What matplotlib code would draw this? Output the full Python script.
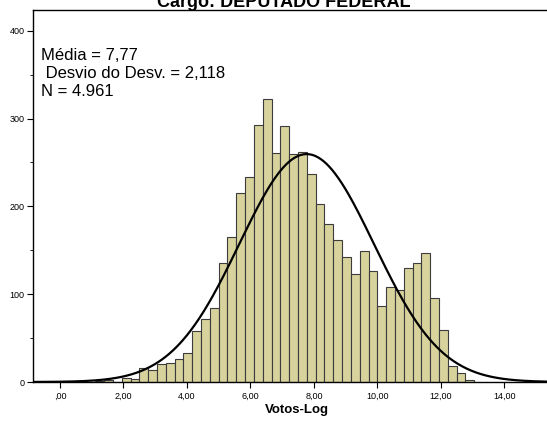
import numpy as np
import matplotlib
matplotlib.use("Agg")
import matplotlib.pyplot as plt
from matplotlib.ticker import MultipleLocator, FixedLocator, FixedFormatter

plt.rcParams['font.family'] = ['Liberation Sans', 'DejaVu Sans']

# Histogram of log-votes (bins of equal width starting at bin_start)
bin_start = 1.111
bin_width = 0.2777
counts = [1, 2, 0, 5, 3,
          16, 14, 20, 22, 26, 33, 58, 72,
          84, 136, 165, 215, 233, 293, 322, 261, 291, 260, 262,
          237, 203, 180, 162, 142, 123, 149, 126, 87, 108, 105,
          130, 136, 147, 96, 59, 18, 10, 2]

mean = 7.77
std = 2.118
n_total = 4961

title = "Cargo: DEPUTADO FEDERAL"
xlabel = "Votos-Log"
stats_lines = ["Média = 7,77", " Desvio do Desv. = 2,118", "N = 4.961"]

x_ticks = [0, 2, 4, 6, 8, 10, 12, 14]
x_ticklabels = [",00", "2,00", "4,00", "6,00", "8,00", "10,00", "12,00", "14,00"]
y_ticks = [0, 100, 200, 300, 400]

W, H = 547, 423
fig = plt.figure(figsize=(W / 100, H / 100), dpi=100)
ax = fig.add_axes([33 / W, 41 / H, (552 - 33) / W, 371.5 / H])

lefts = bin_start + bin_width * np.arange(len(counts))
ax.bar(lefts, counts, width=bin_width, align='edge',
       color='#D8D29D', edgecolor='#3c3c3c', linewidth=0.8, zorder=2)

# Normal curve scaled to the histogram
xs = np.linspace(-1, 16, 600)
pdf = np.exp(-0.5 * ((xs - mean) / std) ** 2) / (std * np.sqrt(2 * np.pi))
ax.plot(xs, n_total * bin_width * pdf, color='black', lw=1.6, zorder=3)

ax.set_xlim(-0.85, 15.5)
ax.set_ylim(0, 423)

ax.xaxis.set_major_locator(FixedLocator(x_ticks))
ax.xaxis.set_major_formatter(FixedFormatter(x_ticklabels))
ax.yaxis.set_major_locator(FixedLocator(y_ticks))
ax.yaxis.set_minor_locator(MultipleLocator(50))
ax.tick_params(axis='both', which='major', direction='out', length=4,
               width=0.8, labelsize=6.5, pad=2, colors='black')
ax.tick_params(axis='y', which='minor', direction='out', length=2.5, width=0.6)
ax.tick_params(axis='x', pad=3)

for side in ['left', 'bottom', 'top']:
    ax.spines[side].set_linewidth(1.0)
    ax.spines[side].set_color('black')
ax.spines['right'].set_visible(False)

fig.text(297 / W, 1 - 410 / H, xlabel, ha='center', va='center',
         fontsize=9.5, fontweight='bold')

fig.text(284 / W, 1 - 7 / H, title, ha='center', va='baseline',
         fontsize=13, fontweight='bold')

for i, line in enumerate(stats_lines):
    fig.text(41 / W, 1 - (55 + 18.3 * i) / H, line, ha='left', va='center',
             fontsize=12)

fig.savefig("out.png", dpi=100)
